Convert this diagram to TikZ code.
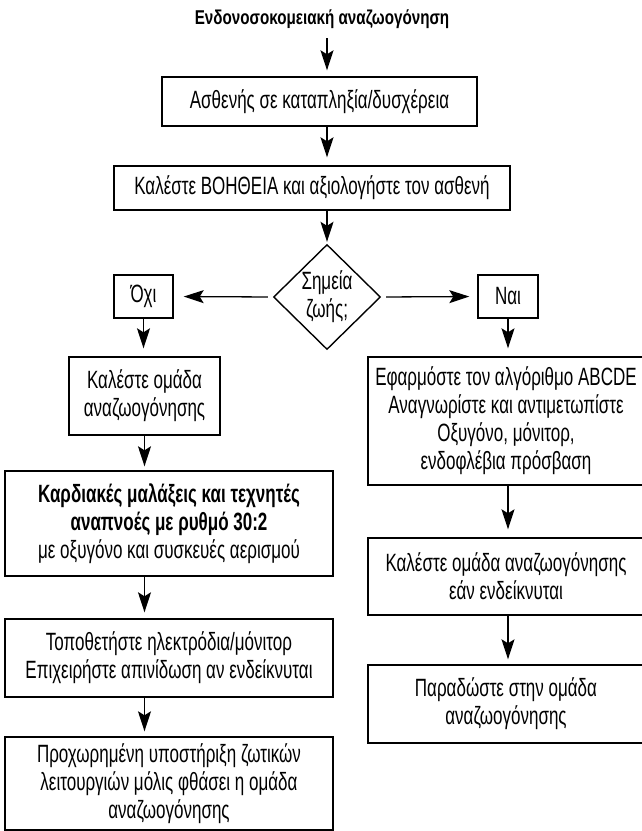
\documentclass[tikz,border=0pt]{standalone}
\usepackage{fontspec}
\setmainfont{Liberation Sans}[FakeStretch=0.68]
\newfontfamily\titlefont{Liberation Sans}[FakeStretch=0.76]
\usetikzlibrary{shapes.geometric,arrows.meta}
\begin{document}
\begin{tikzpicture}[x=1pt,y=-1pt,
  box/.style={draw,line width=1.4pt,rectangle,inner sep=0pt,align=center,
    font=\fontsize{25}{28}\selectfont},
  arr/.style={draw,line width=1.3pt,-{Stealth[length=20pt,width=13pt,inset=4pt]}}]
\useasboundingbox (0,0) rectangle (642,831);
\node[inner sep=0pt,font=\titlefont\fontsize{20}{24}\bfseries\selectfont,anchor=base] (title) at (322,24) {Ενδονοσοκομειακή αναζωογόνηση};
\node[box,minimum width=315,minimum height=49] (b1) at (319.5,101.5) {Ασθενής σε καταπληξία/δυσχέρεια};
\node[box,minimum width=396,minimum height=44] (b2) at (312,188) {Καλέστε ΒΟΗΘΕΙΑ και αξιολογήστε τον ασθενή};
\node[box,shape=diamond,minimum width=107,minimum height=105] (dia) at (327,297) {Σημεία\\ζωής;};
\node[box,minimum width=59,minimum height=43] (no) at (143.5,296.5) {Όχι};
\node[box,minimum width=60,minimum height=43] (yes) at (508,296.5) {Ναι};
\node[box,minimum width=151,minimum height=78] (kal) at (144.5,396) {Καλέστε ομάδα\\αναζωογόνησης};
\node[box,minimum width=328,minimum height=105] (kard) at (169,523.5) {\textbf{Καρδιακές μαλάξεις και τεχνητές}\\\textbf{αναπνοές με ρυθμό 30:2}\\με οξυγόνο και συσκευές αερισμού};
\node[box,minimum width=328,minimum height=78] (topo) at (169,658) {Τοποθετήστε ηλεκτρόδια/μόνιτορ\\Επιχειρήστε απινίδωση αν ενδείκνυται};
\node[box,minimum width=328,minimum height=93] (adv) at (169,783.5) {Προχωρημένη υποστήριξη ζωτικών\\λειτουργιών μόλις φθάσει η ομάδα\\αναζωογόνησης};
\node[box,minimum width=276,minimum height=128] (abc) at (506,421) {Εφαρμόστε τον αλγόριθμο ABCDE\\Αναγνωρίστε και αντιμετωπίστε\\Οξυγόνο, μόνιτορ,\\ενδοφλέβια πρόσβαση};
\node[box,minimum width=276,minimum height=77] (kal2) at (506,576.5) {Καλέστε ομάδα αναζωογόνησης\\εάν ενδείκνυται};
\node[box,minimum width=276,minimum height=78] (par) at (506,704) {Παραδώστε στην ομάδα\\αναζωογόνησης};
\draw[arr,shorten <=10pt,shorten >=6pt] (title.south -| dia.north) -- (b1.north -| dia.north);
\draw[arr,shorten >=8pt] (b1.south -| dia.north) -- (b2.north -| dia.north);
\draw[arr,shorten >=2pt] (b2.south -| dia.north) -- (dia.north);
\draw[arr,shorten <=5pt,shorten >=10pt] (dia.west) -- (no.east);
\draw[arr,shorten <=5pt,shorten >=8pt] (dia.east) -- (yes.west);
\draw[arr,shorten >=8pt] (no.south) -- (no.south |- kal.north);
\draw[arr,shorten >=8pt] (yes.south) -- (yes.south |- abc.north);
\draw[arr,shorten >=4pt] (kal.south) -- (kal.south |- kard.north);
\draw[arr,shorten >=6pt] (kard.south -| kal.south) -- (topo.north -| kal.south);
\draw[arr,shorten >=5pt] (topo.south -| kal.south) -- (adv.north -| kal.south);
\draw[arr,shorten >=8pt] (abc.south -| yes.south) -- (kal2.north -| yes.south);
\draw[arr,shorten >=5pt] (kal2.south -| yes.south) -- (par.north -| yes.south);
\end{tikzpicture}
\end{document}
